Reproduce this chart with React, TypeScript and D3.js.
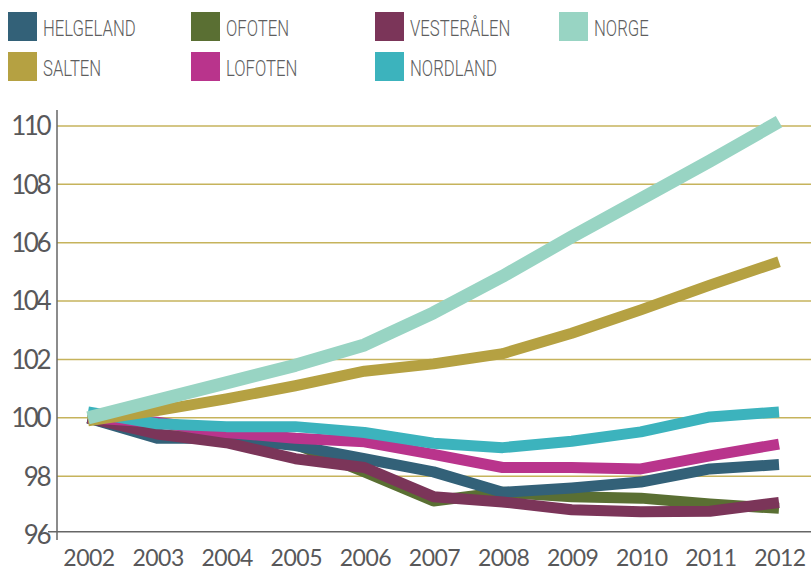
import * as d3 from 'd3'

const years = [2002, 2003, 2004, 2005, 2006, 2007, 2008, 2009, 2010, 2011, 2012]
const yTicks = [96, 98, 100, 102, 104, 106, 108, 110]

const helgeland = [100.0, 99.3, 99.3, 99.05, 98.6, 98.15, 97.45, 97.6, 97.8, 98.25, 98.4]
const ofoten = [100.0, 99.4, 99.35, 99.1, 98.15, 97.15, 97.45, 97.3, 97.25, 97.05, 96.9]
const vesteraalen = [100.0, 99.45, 99.15, 98.6, 98.3, 97.3, 97.12, 96.85, 96.78, 96.8, 97.1]
const lofoten = [100.0, 99.85, 99.5, 99.3, 99.18, 98.75, 98.3, 98.3, 98.25, 98.7, 99.1]
const nordland = [100.2, 99.8, 99.7, 99.7, 99.5, 99.13, 98.98, 99.2, 99.52, 100.03, 100.2]
const salten = [99.9, 100.25, 100.65, 101.1, 101.6, 101.85, 102.2, 102.9, 103.7, 104.55, 105.35]
const norge = [100.0, 100.6, 101.2, 101.8, 102.5, 103.6, 104.85, 106.2, 107.5, 108.8, 110.15]

const series = [
  { name: 'OFOTEN', color: '#5a6f33', values: ofoten },
  { name: 'HELGELAND', color: '#336178', values: helgeland },
  { name: 'VESTERÅLEN', color: '#7b3559', values: vesteraalen },
  { name: 'LOFOTEN', color: '#b9348c', values: lofoten },
  { name: 'NORDLAND', color: '#3cb3bd', values: nordland },
  { name: 'SALTEN', color: '#b5a142', values: salten },
  { name: 'NORGE', color: '#98d4c3', values: norge },
]

const legendRows = [
  ['HELGELAND', 'OFOTEN', 'VESTERÅLEN', 'NORGE'],
  ['SALTEN', 'LOFOTEN', 'NORDLAND'],
]

export default function App() {
  const width = 811
  const height = 571
  const axisX = 57
  const axisY = 531.7

  const x = d3.scaleLinear().domain([2002, 2012]).range([88, 779])
  const y = d3.scaleLinear().domain([96.1, 110]).range([axisY, 126])

  const line = d3.line<number>()
    .x((_, i) => x(years[i]))
    .y(d => y(d))

  const colorOf = (n: string) => series.find(s => s.name === n)!.color
  const textColor = '#58585a'
  const legendX = [8, 191, 375, 559]

  return (
    <svg width={width} height={height} style={{ position: 'absolute', left: 0, top: 0, display: 'block' }}>
      {/* legend */}
      {legendRows.map((row, r) =>
        row.map((name, c) => {
          const lx = legendX[c]
          const ly = 12 + r * 40
          return (
            <g key={name}>
              <rect x={lx} y={ly} width={29} height={29} fill={colorOf(name)} />
              <text
                transform={`translate(${lx + 35}, ${ly + 24}) scale(0.76, 1)`}
                fontFamily="Roboto, sans-serif"
                fontWeight={300}
                fontSize={22}
                fill="#5e5e60"
              >{name}</text>
            </g>
          )
        })
      )}

      {/* gridlines */}
      {yTicks.filter(t => t > 96).map(t => (
        <line key={t} x1={axisX} x2={width} y1={y(t)} y2={y(t)} stroke="#c6b35c" strokeWidth={1.5} />
      ))}

      {/* series */}
      {series.map(s => (
        <path key={s.name} d={line(s.values) ?? ''} fill="none" stroke={s.color}
          strokeWidth={s.name === 'NORGE' ? 13 : 11} strokeLinejoin="round" />
      ))}

      {/* axes */}
      <line x1={axisX} x2={axisX} y1={110} y2={540} stroke="#666" strokeWidth={1.5} />
      <line x1={48} x2={width} y1={axisY} y2={axisY} stroke="#666" strokeWidth={1.5} />

      {yTicks.map(t => (
        <text key={t} x={49} y={y(t)} dy="0.36em" textAnchor="end"
          fontFamily="Lato, sans-serif" fontSize={26} letterSpacing={-2.5} fill={textColor}>{t}</text>
      ))}

      {years.map(yr => (
        <text key={yr} x={x(yr) + 1} y={566} textAnchor="middle"
          fontFamily="Lato, sans-serif" fontSize={23} letterSpacing={-0.5} fill={textColor}>{yr}</text>
      ))}
    </svg>
  )
}
